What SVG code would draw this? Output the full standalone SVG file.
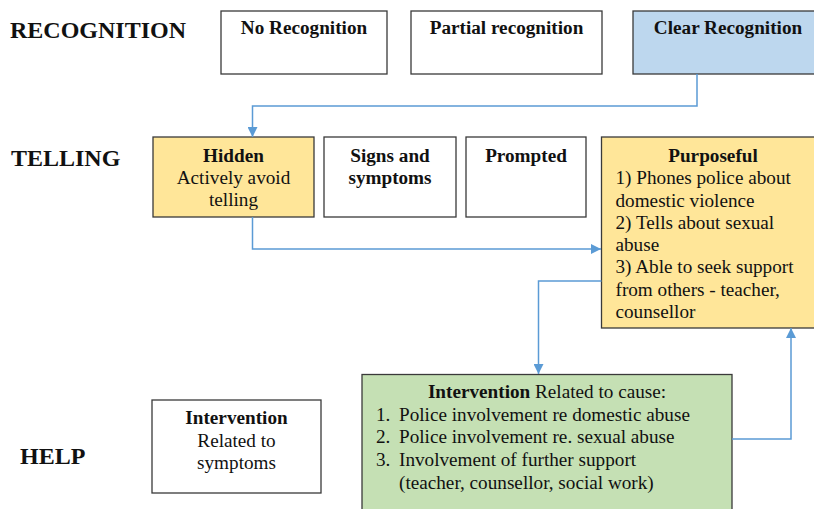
<svg xmlns="http://www.w3.org/2000/svg" width="814" height="509" viewBox="0 0 814 509">
  <style>
    text { font-family: "Liberation Serif", "Times New Roman", serif; fill: #111; }
    .stage { font-size: 24px; font-weight: bold; }
    .t { font-size: 19.2px; }
    .b { font-weight: bold; }
    .c { text-anchor: middle; }
    .box { stroke: #3a3a3a; stroke-width: 1.3; }
    .white { fill: #ffffff; }
    .blue { fill: #BDD7EE; }
    .yellow { fill: #FFE699; }
    .green { fill: #C5E0B4; }
    .link { fill: none; stroke: #5B9BD5; stroke-width: 1.5; }
  </style>
  <defs>
    <marker id="arrow" markerUnits="userSpaceOnUse" markerWidth="10" markerHeight="10" refX="10" refY="5" orient="auto">
      <path d="M0,0 L10,5 L0,10 z" fill="#5B9BD5"/>
    </marker>
  </defs>

  <rect width="814" height="509" fill="#ffffff"/>

  <!-- stage labels -->
  <g id="labels">
    <text class="stage" x="10" y="38">RECOGNITION</text>
    <text class="stage" x="11" y="166">TELLING</text>
    <text class="stage" x="20" y="464">HELP</text>
  </g>

  <!-- recognition row -->
  <g id="no-recognition">
    <rect class="box white" x="221" y="11" width="166" height="63"/>
    <text class="t b c" x="304" y="34">No Recognition</text>
  </g>
  <g id="partial-recognition">
    <rect class="box white" x="411" y="11" width="191" height="63"/>
    <text class="t b c" x="506.5" y="34">Partial recognition</text>
  </g>
  <g id="clear-recognition">
    <rect class="box blue" x="633" y="11" width="200" height="63"/>
    <text class="t b c" x="728" y="34">Clear Recognition</text>
  </g>

  <!-- telling row -->
  <g id="hidden">
    <rect class="box yellow" x="153" y="137" width="161" height="80"/>
    <text class="t b c" x="233.5" y="162">Hidden</text>
    <text class="t c" x="233.5" y="184">Actively avoid</text>
    <text class="t c" x="233.5" y="206">telling</text>
  </g>
  <g id="signs-and-symptoms">
    <rect class="box white" x="324" y="137" width="132" height="80"/>
    <text class="t b c" x="390" y="162">Signs and</text>
    <text class="t b c" x="390" y="184">symptoms</text>
  </g>
  <g id="prompted">
    <rect class="box white" x="466" y="137" width="120" height="80"/>
    <text class="t b c" x="526" y="162">Prompted</text>
  </g>
  <g id="purposeful">
    <rect class="box yellow" x="601.5" y="137" width="230" height="191"/>
    <text class="t b c" x="713" y="162">Purposeful</text>
    <text class="t" x="615.5" y="184.3">1) Phones police about</text>
    <text class="t" x="615.5" y="206.5">domestic violence</text>
    <text class="t" x="615.5" y="228.8">2) Tells about sexual</text>
    <text class="t" x="615.5" y="251">abuse</text>
    <text class="t" x="615.5" y="273.3">3) Able to seek support</text>
    <text class="t" x="615.5" y="295.5">from others - teacher,</text>
    <text class="t" x="615.5" y="317.8">counsellor</text>
  </g>

  <!-- help row -->
  <g id="intervention-symptoms">
    <rect class="box white" x="152" y="400" width="169" height="93"/>
    <text class="t b c" x="236.5" y="424">Intervention</text>
    <text class="t c" x="236.5" y="446.5">Related to</text>
    <text class="t c" x="236.5" y="469">symptoms</text>
  </g>
  <g id="intervention-cause">
    <rect class="box green" x="362" y="374.5" width="370" height="150"/>
    <text class="t c" x="547" y="398"><tspan class="b">Intervention</tspan> Related to cause:</text>
    <text class="t" x="376" y="420.7">1.</text>
    <text class="t" x="399" y="420.7">Police involvement re domestic abuse</text>
    <text class="t" x="376" y="443.4">2.</text>
    <text class="t" x="399" y="443.4">Police involvement re. sexual abuse</text>
    <text class="t" x="376" y="466.1">3.</text>
    <text class="t" x="399" y="466.1">Involvement of further support</text>
    <text class="t" x="399" y="488.8">(teacher, counsellor, social work)</text>
  </g>

  <!-- connectors -->
  <g id="connectors">
    <path class="link" d="M697,74 V106 H252.5 V137" marker-end="url(#arrow)"/>
    <path class="link" d="M252.5,217 V249 H601" marker-end="url(#arrow)"/>
    <path class="link" d="M601.5,281 H538.5 V374" marker-end="url(#arrow)"/>
    <path class="link" d="M732,439 H791 V328" marker-end="url(#arrow)"/>
  </g>
</svg>
